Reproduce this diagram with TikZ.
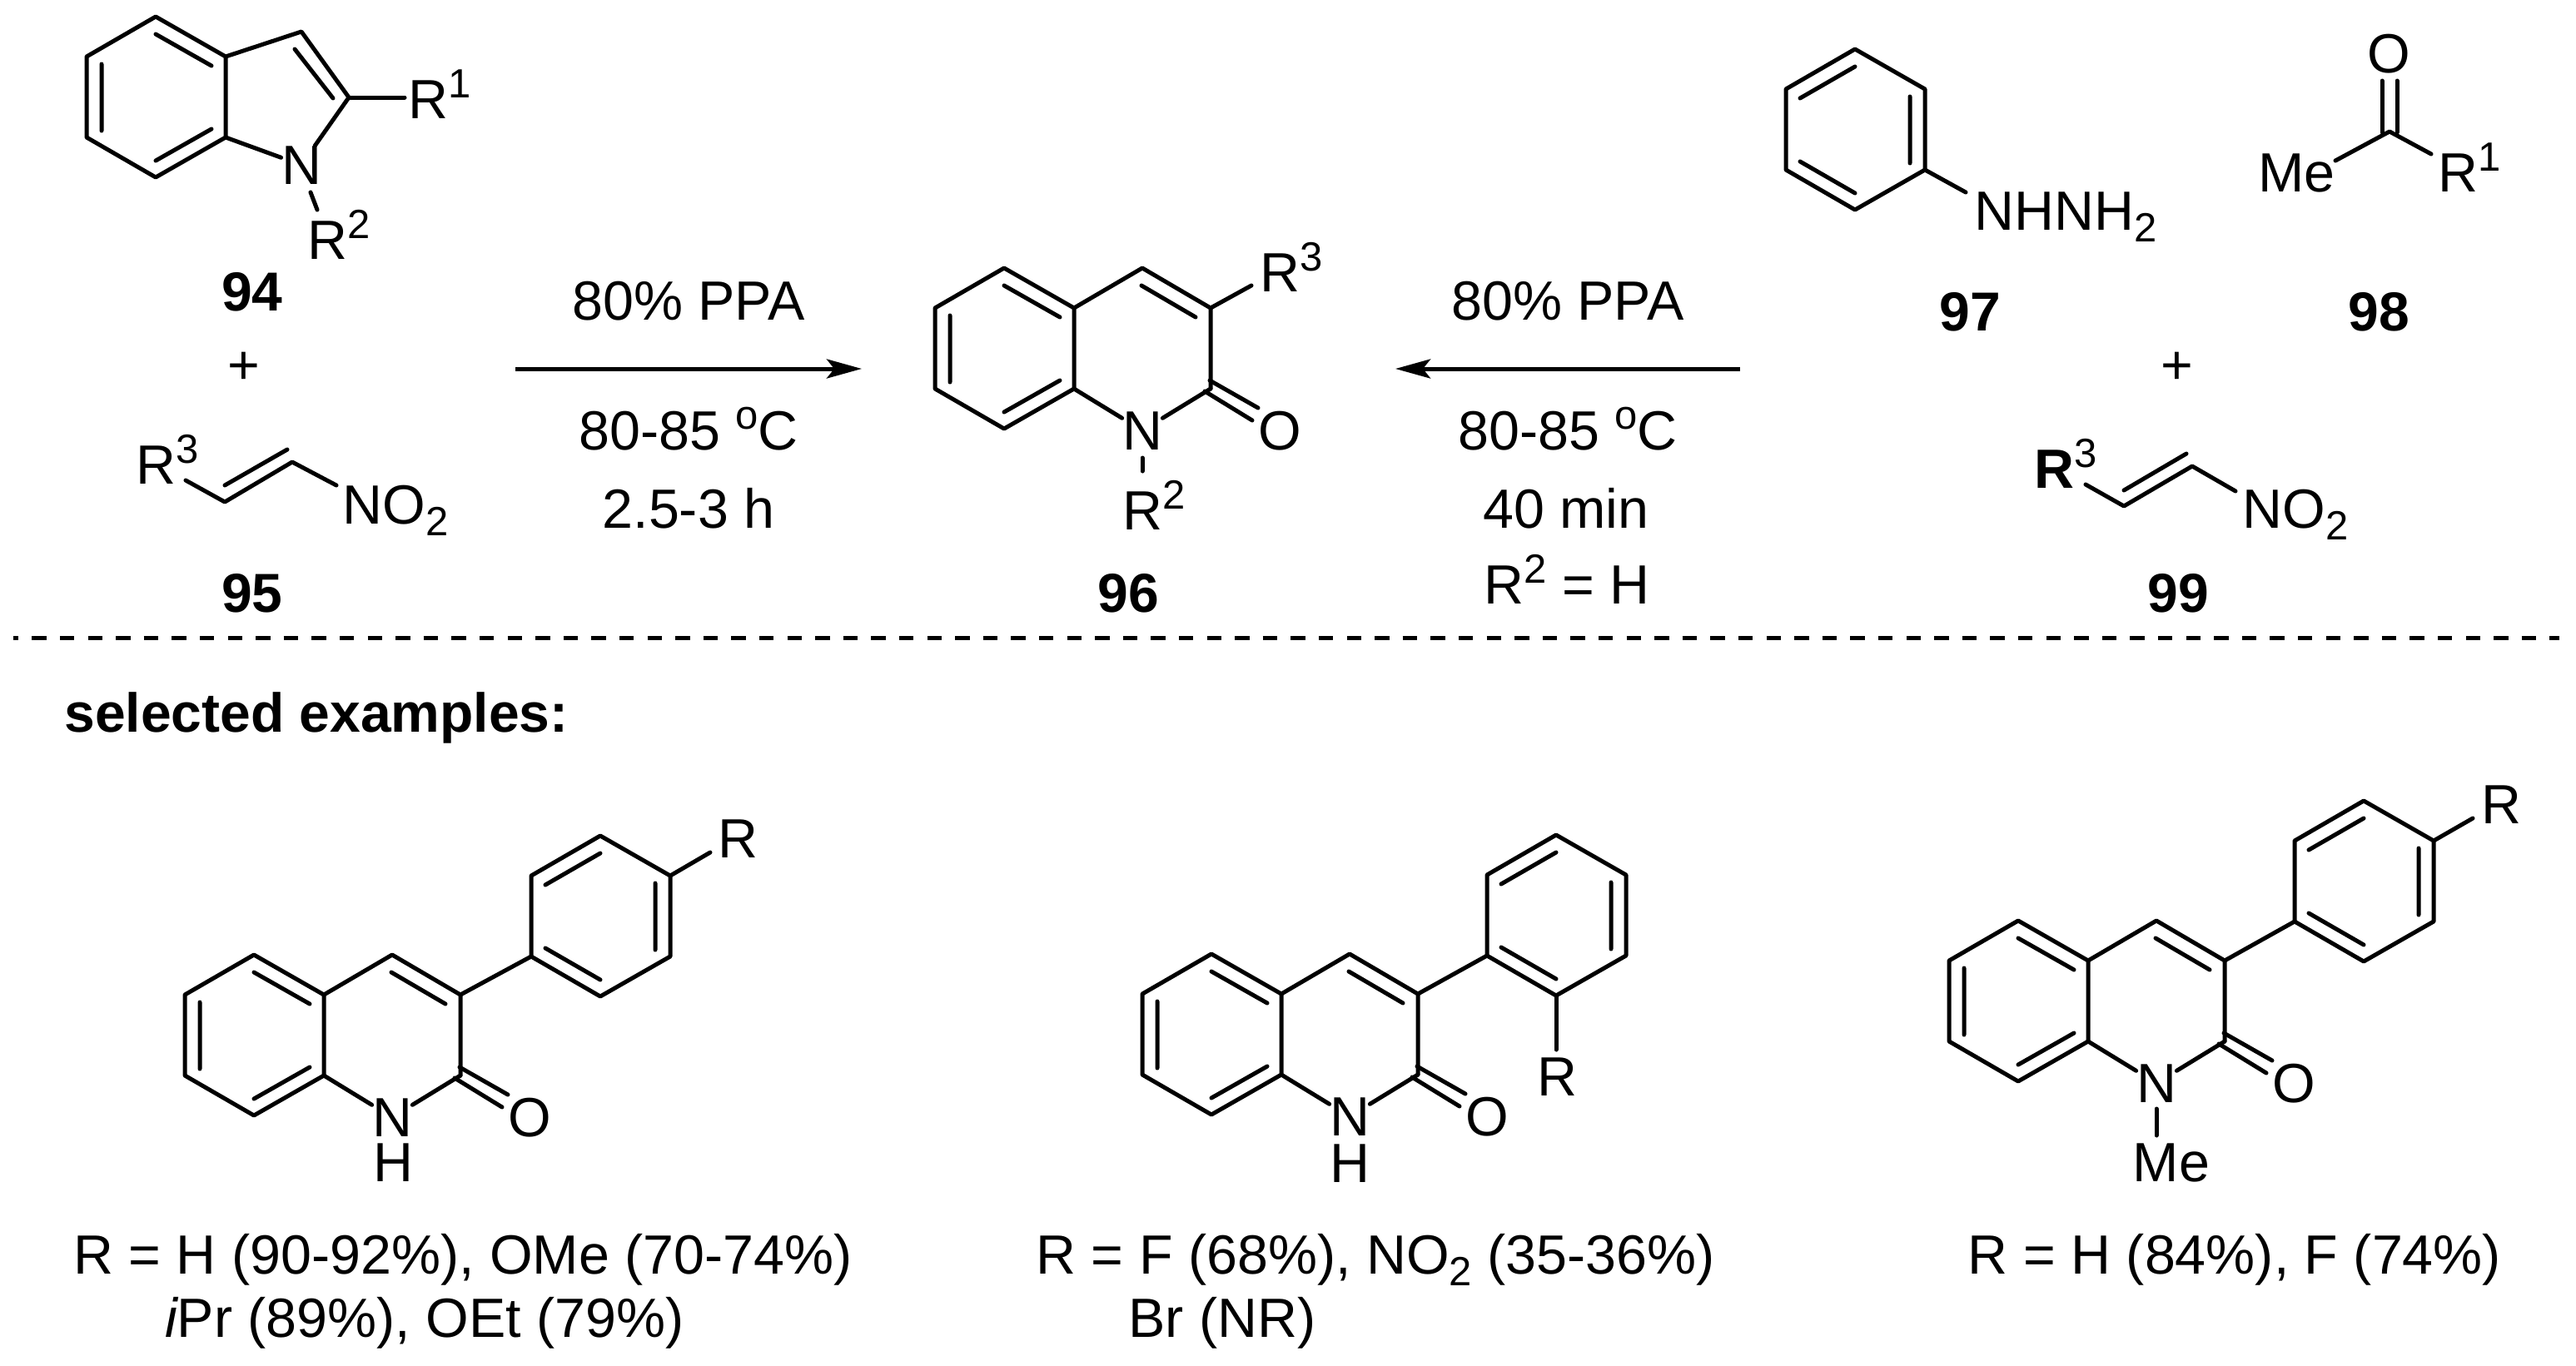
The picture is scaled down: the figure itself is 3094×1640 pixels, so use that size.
\documentclass[tikz,border=0pt]{standalone}
\usepackage{fontspec}
\setmainfont{Liberation Sans}
\usetikzlibrary{arrows.meta}
\newcommand\myup[1]{\raisebox{12.5pt}{\fontsize{24.5}{24}\selectfont #1}}
\newcommand\mydn[1]{\raisebox{-7pt}{\fontsize{24.5}{24}\selectfont #1}}
\tikzset{
  bond/.style={line width=2.5pt,line join=round,line cap=round},
  txt/.style={inner sep=0pt,anchor=base,font=\fontsize{33.2}{40}\selectfont},
  lft/.style={txt,anchor=base west},
  atom/.style={txt},
  cmpd/.style={txt,font=\fontsize{33}{40}\selectfont\bfseries},
  rxn/.style={line width=2.5pt,-{Stealth[length=21pt,width=11.5pt,inset=4.5pt]}},
  divider/.style={line width=2.5pt,dash pattern=on 8.75pt off 8.05pt,dash phase=5.65pt}
}
% ring with double bonds top-right, left, bottom-right
\newcommand\ringA[2]{\begin{scope}[shift={(#2)}]
  \coordinate (#1a) at (0,0); \coordinate (#1b) at (84,48); \coordinate (#1c) at (84,145);
  \coordinate (#1d) at (0,193); \coordinate (#1e) at (-83,145); \coordinate (#1f) at (-83,48);
  \draw[bond] (#1a)--(#1b)--(#1c)--(#1d)--(#1e)--(#1f)--cycle;
  \draw[bond] (0,21)--(67,59) (-65,57)--(-65,137) (0,173)--(67,135);
\end{scope}}
% ring with double bonds top-left, right, bottom-left
\newcommand\ringB[2]{\begin{scope}[shift={(#2)}]
  \coordinate (#1a) at (0,0); \coordinate (#1b) at (84,48); \coordinate (#1c) at (84,145);
  \coordinate (#1d) at (0,193); \coordinate (#1e) at (-83,145); \coordinate (#1f) at (-83,48);
  \draw[bond] (#1a)--(#1b)--(#1c)--(#1d)--(#1e)--(#1f)--cycle;
  \draw[bond] (0,21)--(-66,59) (66,57)--(66,137) (0,173)--(-66,135);
\end{scope}}
% quinolin-2-one skeleton
\newcommand\quin[2]{\ringA{#1}{#2}\begin{scope}[shift={(#2)}]
  \coordinate (#1ct) at (166,0); \coordinate (#1cr) at (248,48); \coordinate (#1co) at (248,145);
  \draw[bond] (#1b)--(#1ct)--(#1cr)--(#1co);
  \draw[bond] (165,21)--(230,59);
  \node[atom] (#1N) at (166,218) {N};
  \node[atom] (#1O) at (331,218) {O};
  \draw[bond] (#1c)--(#1N);
  \draw[bond] (#1co)--(#1N);
  \draw[bond] (247,135)--(305,168) (241,148)--(298,183);
\end{scope}}
\begin{document}
\begin{tikzpicture}[x=0.5pt,y=-0.5pt]
\useasboundingbox[fill=white] (0,0) rectangle (3094,1640);
% ---- 94
\ringA{ind}{187,20}
\coordinate (c3) at (362,38); \coordinate (c2) at (419,117); \coordinate (r1e) at (486,117);
\node[atom] (iN) at (362,221) {N};
\draw[bond] (indb)--(c3)--(c2)--(iN) (indc)--(iN);
\draw[bond] (354,59)--(400,118);
\draw[bond] (c2)--(r1e);
\node[lft] (iR1) at (490,142) {R\myup{1}};
\draw[bond] (373,231)--(381,252);
\node[lft] (iR2) at (369,311) {R\myup{2}};
\node[cmpd] (n94) at (303,373) {94};
\node[txt] (plus1) at (293,461) {+};
% ---- 95
\node[lft] (aR3) at (163,581) {R\myup{3}};
\coordinate (a1) at (223,577); \coordinate (a2) at (270,603); \coordinate (a3) at (351,555); \coordinate (a4) at (404,583);
\draw[bond] (a1)--(a2)--(a3)--(a4);
\draw[bond] (270,583)--(345,540);
\node[lft] (aNO) at (411,629) {NO\mydn{2}};
\node[cmpd] (n95) at (303,735) {95};
% ---- arrow 1
\node[txt] (t1) at (827,384) {80\% PPA};
\coordinate (ar1s) at (619,443); \coordinate (ar1e) at (1035,443);
\draw[rxn] (ar1s)--(ar1e);
\node[txt] (t2) at (827,540) {80-85 \myup{o}C};
\node[txt] (t3) at (827,634) {2.5-3 h};
% ---- 96
\quin{q}{1206,322}
\coordinate (r3b) at (1503,343);
\draw[bond] (qcr)--(r3b);
\node[lft] (qR3) at (1513,350) {R\myup{3}};
\draw[bond] (1372,550)--(1372,566);
\node[lft] (qR2) at (1348,636) {R\myup{2}};
\node[cmpd] (n96) at (1355,735) {96};
% ---- arrow 2
\node[txt] (t4) at (1883,384) {80\% PPA};
\coordinate (ar2s) at (2090,443); \coordinate (ar2e) at (1676,443);
\draw[rxn] (ar2s)--(ar2e);
\node[txt] (t5) at (1883,540) {80-85 \myup{o}C};
\node[txt] (t6) at (1881,634) {40 min};
\node[txt] (t7) at (1882,725) {R\myup{2} = H};
% ---- 97
\ringB{ph}{2228,59}
\node[lft] (phN) at (2371,276) {NHNH\mydn{2}};
\draw[bond] (phc)--(2361,231);
\node[cmpd] (n97) at (2366,397) {97};
% ---- 98
\node[atom] (kO) at (2869,87) {O};
\coordinate (kC) at (2870,158);
\draw[bond] (2861,97)--(2861,159) (2879,97)--(2879,159);
\draw[bond] (2805,193)--(kC)--(2920,185);
\node[lft] (kMe) at (2712,230) {Me};
\node[lft] (kR) at (2928,230) {R\myup{1}};
\node[cmpd] (n98) at (2857,397) {98};
\node[txt] (plus2) at (2615,461) {+};
% ---- 99
\node[lft] (bR3) at (2443,586) {\textbf{R}\myup{3}};
\coordinate (b1) at (2505,582); \coordinate (b2) at (2551,608); \coordinate (b3) at (2633,560); \coordinate (b4) at (2685,590);
\draw[bond] (b1)--(b2)--(b3)--(b4);
\draw[bond] (2551,589)--(2626,545);
\node[lft] (bNO) at (2693,634) {NO\mydn{2}};
\node[cmpd] (n99) at (2616,735) {99};
% ---- divider
\coordinate (dv1) at (16,766); \coordinate (dv2) at (3074,766);
\draw[divider] (dv1)--(dv2);
\node[cmpd,anchor=base west] (sel) at (77,879) {selected examples:};
% ---- example 1
\quin{e}{305,1147}
\ringB{ea}{721,1004}
\draw[bond] (ecr)--(eae);
\node[atom] (eH) at (472,1419) {H};
\node[lft] (eR) at (862,1030) {R};
\draw[bond] (eab)--(853,1024);
\node[txt] (l1) at (556,1530) {R = H (90-92\%), OMe (70-74\%)};
\node[txt] (l2) at (510,1606) {{\itshape i}Pr (89\%), OEt (79\%)};
% ---- example 2
\quin{f}{1455,1146}
\ringB{fa}{1869,1003}
\draw[bond] (fcr)--(fae);
\node[atom] (fH) at (1621,1420) {H};
\node[atom] (fR) at (1870,1316) {R};
\draw[bond] (fad)--(1869,1261);
\node[txt] (l3) at (1652,1530) {R = F (68\%), NO\mydn{2} (35-36\%)};
\node[txt] (l4) at (1468,1606) {Br (NR)};
% ---- example 3
\quin{g}{2424,1106}
\ringB{ga}{2839,962}
\draw[bond] (gcr)--(gae);
\draw[bond] (2590,1332)--(2590,1364);
\node[atom] (gMe) at (2608,1419) {Me};
\node[lft] (gR) at (2980,989) {R};
\draw[bond] (gab)--(2970,983);
\node[txt] (l5) at (2684,1530) {R = H (84\%), F (74\%)};
\end{tikzpicture}
\end{document}
